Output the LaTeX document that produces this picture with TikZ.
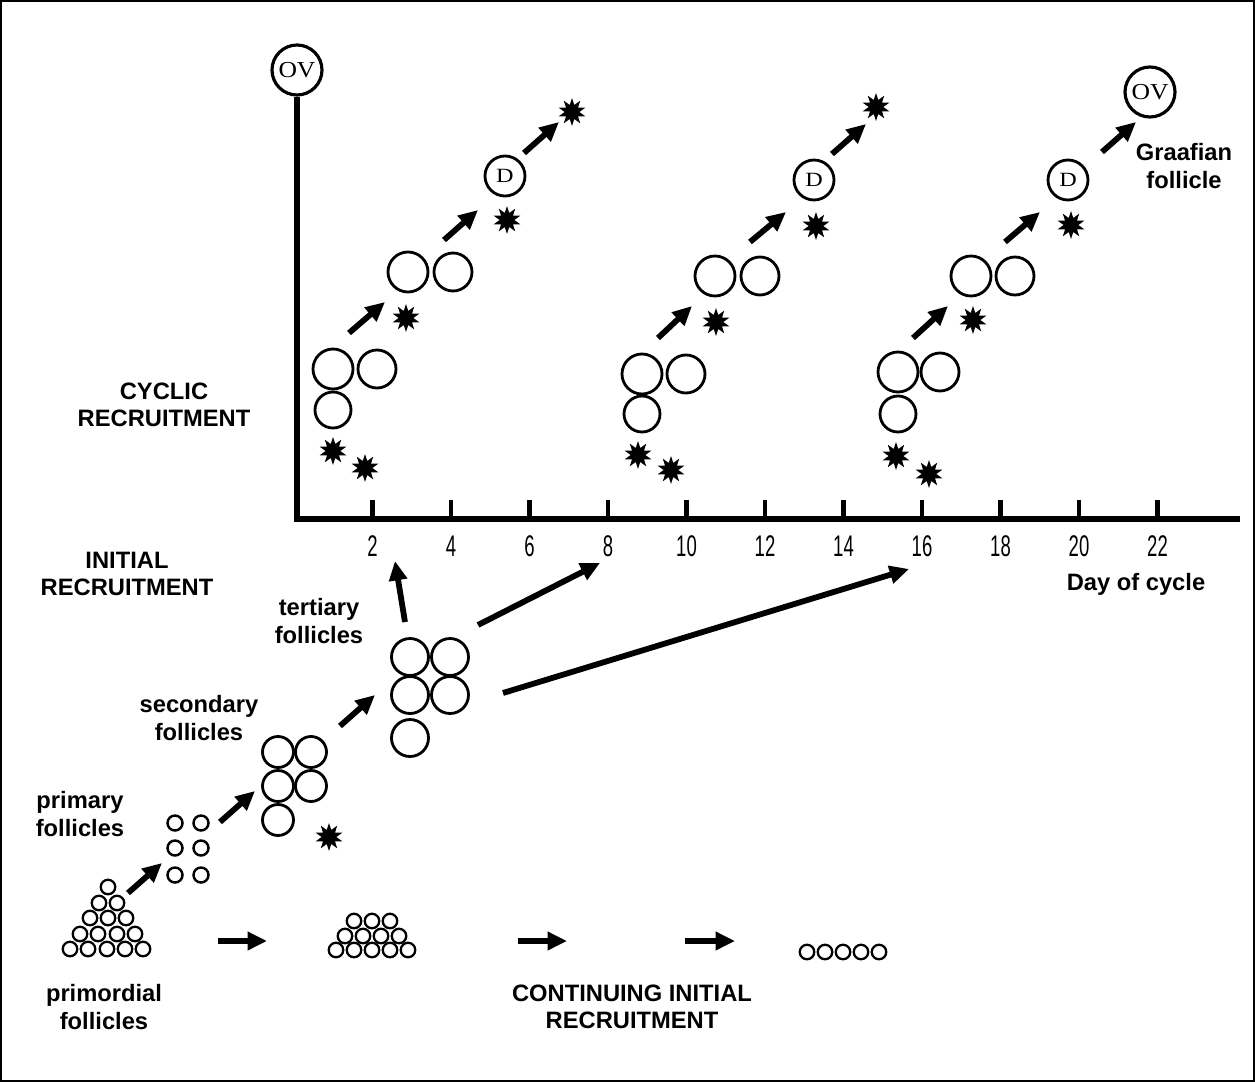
\documentclass[tikz,border=0pt]{standalone}
\usepackage{graphicx}
\usepackage{fontspec}
\setsansfont{Liberation Sans}
\newfontfamily\condfont[FakeStretch=0.62]{Liberation Sans}
\newfontfamily\ovfont{Liberation Serif}
\usetikzlibrary{shapes.geometric,arrows.meta}
\newcommand\ovlabel{\scalebox{1.12}[1]{\ovfont\fontsize{13}{13}\selectfont OV}}
\newcommand\dlabel{\scalebox{1.2}[1]{\ovfont\fontsize{11.5}{11.5}\selectfont D}}
\begin{document}
\begin{tikzpicture}[x=0.02cm,y=-0.02cm,
  fol/.style={circle,draw,line width=1.6pt,inner sep=0pt,minimum size=#1},
  fol/.default=0.8cm,
  tinyfol/.style={circle,draw,line width=1.3pt,inner sep=0pt,minimum size=0.29cm},
  atresia/.style={star,star points=10,star point ratio=1.9,fill=black,inner sep=0pt,minimum size=0.56cm},
  arr/.style={line width=3.3pt,-{Triangle[length=11pt,width=10pt]}},
  lbl/.style={font=\sffamily\bfseries\fontsize{13.5}{15.5}\selectfont,align=center},
  daylbl/.style={font=\condfont\fontsize{17}{18}\selectfont},
  axisline/.style={line width=3.2pt},
  tickline/.style={line width=2.4pt}]
\useasboundingbox (0,0) rectangle (1255,1082);
\draw[line width=1.2pt] (1,1) rectangle (1254,1081);

% axes
\node[fol=1.0cm,line width=1.8pt] (ov1) at (297,70) {\ovlabel};
\coordinate (origin) at (297,519);
\coordinate (xend) at (1240,519);
\draw[axisline] (ov1.south) -- (origin);
\draw[axisline] ([xshift=-1.6pt]origin) -- (xend);
\foreach \d in {2,4,...,22} {
  \coordinate (t\d) at (294+\d*39.25,519);
  \draw[tickline] (t\d) -- ++(0,-19);
  \node[daylbl] (dl\d) at (294+\d*39.25,546) {\d};
}
\node[lbl] (day) at (1136,584) {Day of cycle};

% cycle 1
\node[fol=0.8cm] (c1a) at (333,369) {};
\node[fol=0.76cm] (c1b) at (377,369) {};
\node[fol=0.72cm] (c1c) at (333,410) {};
\node[atresia] (s1a) at (333,451) {};
\node[atresia] (s1b) at (365,468) {};
\coordinate (a1s) at (349,333); \coordinate (a1e) at (385,302);
\draw[arr] (a1s) -- (a1e);
\node[atresia] (s1c) at (406,318) {};
\node[fol=0.8cm] (c1d) at (408,272) {};
\node[fol=0.76cm] (c1e) at (453,272) {};
\coordinate (a2s) at (444,240); \coordinate (a2e) at (478,210);
\draw[arr] (a2s) -- (a2e);
\node[atresia] (s1d) at (507,220) {};
\node[fol=0.8cm] (d1) at (505,176) {\dlabel};
\coordinate (a3s) at (524,153); \coordinate (a3e) at (559,122);
\draw[arr] (a3s) -- (a3e);
\node[atresia] (s1e) at (572,112) {};

% cycle 2
\node[fol=0.8cm] (c2a) at (642,374) {};
\node[fol=0.76cm] (c2b) at (686,374) {};
\node[fol=0.72cm] (c2c) at (642,414) {};
\node[atresia] (s2a) at (638,455) {};
\node[atresia] (s2b) at (671,470) {};
\coordinate (b1s) at (658,338); \coordinate (b1e) at (692,306);
\draw[arr] (b1s) -- (b1e);
\node[atresia] (s2c) at (716,322) {};
\node[fol=0.8cm] (c2d) at (715,276) {};
\node[fol=0.76cm] (c2e) at (760,276) {};
\coordinate (b2s) at (750,242); \coordinate (b2e) at (786,212);
\draw[arr] (b2s) -- (b2e);
\node[atresia] (s2d) at (816,226) {};
\node[fol=0.8cm] (d2) at (814,180) {\dlabel};
\coordinate (b3s) at (832,154); \coordinate (b3e) at (866,124);
\draw[arr] (b3s) -- (b3e);
\node[atresia] (s2e) at (876,107) {};

% cycle 3
\node[fol=0.8cm] (c3a) at (898,372) {};
\node[fol=0.76cm] (c3b) at (940,372) {};
\node[fol=0.72cm] (c3c) at (898,414) {};
\node[atresia] (s3a) at (896,456) {};
\node[atresia] (s3b) at (929,474) {};
\coordinate (e1s) at (913,338); \coordinate (e1e) at (948,306);
\draw[arr] (e1s) -- (e1e);
\node[atresia] (s3c) at (973,320) {};
\node[fol=0.8cm] (c3d) at (971,276) {};
\node[fol=0.76cm] (c3e) at (1015,276) {};
\coordinate (e2s) at (1005,242); \coordinate (e2e) at (1040,212);
\draw[arr] (e2s) -- (e2e);
\node[atresia] (s3d) at (1071,225) {};
\node[fol=0.8cm] (d3) at (1068,180) {\dlabel};
\coordinate (e3s) at (1102,152); \coordinate (e3e) at (1136,122);
\draw[arr] (e3s) -- (e3e);
\node[fol=1.0cm,line width=1.8pt] (ov2) at (1150,92) {\ovlabel};
\node[lbl] (graaf) at (1184,166) {Graafian\\follicle};

% labels
\node[lbl] (cyclic) at (164,405) {CYCLIC\\RECRUITMENT};
\node[lbl] (initial) at (127,574) {INITIAL\\RECRUITMENT};
\node[lbl] (tert) at (319,621) {tertiary\\follicles};
\node[lbl] (sec) at (199,718) {secondary\\follicles};
\node[lbl] (prim) at (80,814) {primary\\follicles};
\node[lbl] (primord) at (104,1007) {primordial\\follicles};
\node[lbl] (cont) at (632,1007) {CONTINUING INITIAL\\RECRUITMENT};

% tertiary follicles
\node[fol=0.74cm] (t1) at (410,657) {};
\node[fol=0.74cm] (t2) at (450,657) {};
\node[fol=0.74cm] (t3) at (410,695) {};
\node[fol=0.74cm] (t4) at (450,695) {};
\node[fol=0.74cm] (t5) at (410,738) {};
\coordinate (f1s) at (405,622); \coordinate (f1e) at (395,561);
\draw[arr] (f1s) -- (f1e);
\coordinate (f2s) at (478,625); \coordinate (f2e) at (600,563);
\draw[arr] (f2s) -- (f2e);
\coordinate (f3s) at (503,693); \coordinate (f3e) at (909,569);
\draw[arr] (f3s) -- (f3e);

% secondary follicles
\node[fol=0.62cm] (q1) at (278,752) {};
\node[fol=0.62cm] (q2) at (311,752) {};
\node[fol=0.62cm] (q3) at (278,786) {};
\node[fol=0.62cm] (q4) at (311,786) {};
\node[fol=0.62cm] (q5) at (278,820) {};
\node[atresia] (s4) at (329,837) {};
\coordinate (g1s) at (340,726); \coordinate (g1e) at (375,695);
\draw[arr] (g1s) -- (g1e);

% primary follicles
\node[fol=0.3cm,line width=1.4pt] (p1) at (175,823) {};
\node[fol=0.3cm,line width=1.4pt] (p2) at (201,823) {};
\node[fol=0.3cm,line width=1.4pt] (p3) at (175,848) {};
\node[fol=0.3cm,line width=1.4pt] (p4) at (201,848) {};
\node[fol=0.3cm,line width=1.4pt] (p5) at (175,875) {};
\node[fol=0.3cm,line width=1.4pt] (p6) at (201,875) {};
\coordinate (h1s) at (220,822); \coordinate (h1e) at (255,791);
\draw[arr] (h1s) -- (h1e);
\coordinate (h2s) at (128,893); \coordinate (h2e) at (162,863);
\draw[arr] (h2s) -- (h2e);

% primordial pile
\node[tinyfol] (m1) at (108,887) {};
\foreach \x [count=\i] in {99,117} \node[tinyfol] (m2\i) at (\x,903) {};
\foreach \x [count=\i] in {90,108,126} \node[tinyfol] (m3\i) at (\x,918) {};
\foreach \x [count=\i] in {80,98,117,135} \node[tinyfol] (m4\i) at (\x,934) {};
\foreach \x [count=\i] in {70,88,107,125,143} \node[tinyfol] (m5\i) at (\x,949) {};
\coordinate (k1s) at (218,941); \coordinate (k1e) at (267,941);
\draw[arr] (k1s) -- (k1e);

% middle pile
\foreach \x [count=\i] in {354,372,390} \node[tinyfol] (n1\i) at (\x,921) {};
\foreach \x [count=\i] in {345,363,381,399} \node[tinyfol] (n2\i) at (\x,936) {};
\foreach \x [count=\i] in {336,354,372,390,408} \node[tinyfol] (n3\i) at (\x,950) {};
\coordinate (k2s) at (518,941); \coordinate (k2e) at (567,941);
\draw[arr] (k2s) -- (k2e);
\coordinate (k3s) at (685,941); \coordinate (k3e) at (735,941);
\draw[arr] (k3s) -- (k3e);

% last row
\foreach \x [count=\i] in {807,825,843,861,879} \node[tinyfol] (r\i) at (\x,952) {};
\end{tikzpicture}
\end{document}
